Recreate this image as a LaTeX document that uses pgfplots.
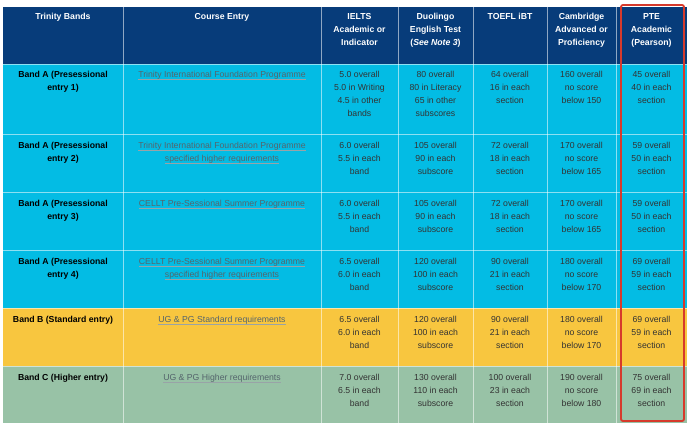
\documentclass[border=0pt]{standalone}
\usepackage{fontspec}
\setmainfont{Liberation Sans}
\usepackage{xcolor}
\usepackage{pgfplots}
\pgfplotsset{compat=1.18}

\definecolor{navy}{HTML}{073C7A}
\definecolor{bandA}{HTML}{03BCE4}
\definecolor{bandB}{HTML}{F8C63F}
\definecolor{bandC}{HTML}{98C2A6}
\definecolor{valtext}{HTML}{333333}
\definecolor{linktext}{HTML}{55656C}
\definecolor{boxred}{HTML}{D63A2C}

% underlined link-style text
\newcommand\lnk[1]{\setbox0\hbox{#1}\rlap{\color{linktext!60}\rule[-2bp]{\wd0}{0.5bp}}\box0}
% fixed height of the first line, so that the node's top is 9bp above its first baseline
\newcommand\st{\rule{0pt}{9bp}}

\tikzset{
  cellt/.style={anchor=north, align=center, inner sep=0pt, text=valtext,
    font=\fontsize{8.7bp}{13bp}\selectfont},
  headt/.style={cellt, text=white, font=\fontsize{8.7bp}{13bp}\selectfont\bfseries},
  bandt/.style={cellt, text=black, font=\fontsize{8.7bp}{13bp}\selectfont\bfseries},
  linkt/.style={cellt, text=linktext},
  gridl/.style={draw=white, draw opacity=0.55, line width=0.8bp},
}

\begin{document}
\begin{tikzpicture}
\useasboundingbox (0,0) rectangle (690bp,427bp);
\begin{axis}[
    at={(0,0)}, anchor=south west,
    width=690bp, height=427bp, scale only axis,
    xmin=0, xmax=690, ymin=0, ymax=427,
    y dir=reverse,
    hide axis,
    clip=false,
]
% row backgrounds
\addplot[fill=navy, draw=none] coordinates {(3,7) (687,7) (687,64) (3,64)} --cycle;
\addplot[fill=bandA, draw=none] coordinates {(3,64) (687,64) (687,308) (3,308)} --cycle;
\addplot[fill=bandB, draw=none] coordinates {(3,308) (687,308) (687,366) (3,366)} --cycle;
\addplot[fill=bandC, draw=none] coordinates {(3,366) (687,366) (687,423) (3,423)} --cycle;

% grid lines
\addplot[gridl] coordinates {(123,7) (123,423)};
\addplot[gridl] coordinates {(321,7) (321,423)};
\addplot[gridl] coordinates {(398,7) (398,423)};
\addplot[gridl] coordinates {(473,7) (473,423)};
\addplot[gridl] coordinates {(547,7) (547,423)};
\addplot[gridl] coordinates {(616,7) (616,423)};
\addplot[gridl] coordinates {(3,64) (687,64)};
\addplot[gridl] coordinates {(3,134) (687,134)};
\addplot[gridl] coordinates {(3,192) (687,192)};
\addplot[gridl] coordinates {(3,250) (687,250)};
\addplot[gridl] coordinates {(3,308) (687,308)};
\addplot[gridl] coordinates {(3,366) (687,366)};

% highlight box round the PTE column
\addplot[draw=boxred, line width=1.8bp, rounded corners=2bp] coordinates {(621,5) (684,5) (684,421) (621,421)} --cycle;

% header (first baseline at y = 19)
\node[headt] at (axis cs:63,10) {\st Trinity Bands};
\node[headt] at (axis cs:222,10) {\st Course Entry};
\node[headt] at (axis cs:359.5,10) {\st IELTS\\Academic or\\Indicator};
\node[headt] at (axis cs:435.5,10) {\st Duolingo\\English Test\\(\textit{See Note 3})};
\node[headt] at (axis cs:510,10) {\st TOEFL iBT};
\node[headt] at (axis cs:581.5,10) {\st Cambridge\\Advanced or\\Proficiency};
\node[headt] at (axis cs:651.5,10) {\st PTE\\Academic\\(Pearson)};

% Band A entry 1 (first baseline at y = 77)
\node[bandt] at (axis cs:63,68) {\st Band A (Presessional\\entry 1)};
\node[linkt] at (axis cs:222,68) {\st\lnk{Trinity International Foundation Programme}};
\node[cellt] at (axis cs:359.5,68) {\st 5.0 overall\\5.0 in Writing\\4.5 in other\\bands};
\node[cellt] at (axis cs:435.5,68) {\st 80 overall\\80 in Literacy\\65 in other\\subscores};
\node[cellt] at (axis cs:510,68) {\st 64 overall\\16 in each\\section};
\node[cellt] at (axis cs:581.5,68) {\st 160 overall\\no score\\below 150};
\node[cellt] at (axis cs:651.5,68) {\st 45 overall\\40 in each\\section};

% Band A entry 2
\node[bandt] at (axis cs:63,139) {\st Band A (Presessional\\entry 2)};
\node[linkt] at (axis cs:222,139) {\st\lnk{Trinity International Foundation Programme}\\\lnk{specified higher requirements}};
\node[cellt] at (axis cs:359.5,139) {\st 6.0 overall\\5.5 in each\\band};
\node[cellt] at (axis cs:435.5,139) {\st 105 overall\\90 in each\\subscore};
\node[cellt] at (axis cs:510,139) {\st 72 overall\\18 in each\\section};
\node[cellt] at (axis cs:581.5,139) {\st 170 overall\\no score\\below 165};
\node[cellt] at (axis cs:651.5,139) {\st 59 overall\\50 in each\\section};

% Band A entry 3
\node[bandt] at (axis cs:63,197) {\st Band A (Presessional\\entry 3)};
\node[linkt] at (axis cs:222,197) {\st\lnk{CELLT Pre-Sessional Summer Programme}};
\node[cellt] at (axis cs:359.5,197) {\st 6.0 overall\\5.5 in each\\band};
\node[cellt] at (axis cs:435.5,197) {\st 105 overall\\90 in each\\subscore};
\node[cellt] at (axis cs:510,197) {\st 72 overall\\18 in each\\section};
\node[cellt] at (axis cs:581.5,197) {\st 170 overall\\no score\\below 165};
\node[cellt] at (axis cs:651.5,197) {\st 59 overall\\50 in each\\section};

% Band A entry 4
\node[bandt] at (axis cs:63,255) {\st Band A (Presessional\\entry 4)};
\node[linkt] at (axis cs:222,255) {\st\lnk{CELLT Pre-Sessional Summer Programme}\\\lnk{specified higher requirements}};
\node[cellt] at (axis cs:359.5,255) {\st 6.5 overall\\6.0 in each\\band};
\node[cellt] at (axis cs:435.5,255) {\st 120 overall\\100 in each\\subscore};
\node[cellt] at (axis cs:510,255) {\st 90 overall\\21 in each\\section};
\node[cellt] at (axis cs:581.5,255) {\st 180 overall\\no score\\below 170};
\node[cellt] at (axis cs:651.5,255) {\st 69 overall\\59 in each\\section};

% Band B
\node[bandt] at (axis cs:63,313) {\st Band B (Standard entry)};
\node[linkt] at (axis cs:222,313) {\st\lnk{UG \& PG Standard requirements}};
\node[cellt] at (axis cs:359.5,313) {\st 6.5 overall\\6.0 in each\\band};
\node[cellt] at (axis cs:435.5,313) {\st 120 overall\\100 in each\\subscore};
\node[cellt] at (axis cs:510,313) {\st 90 overall\\21 in each\\section};
\node[cellt] at (axis cs:581.5,313) {\st 180 overall\\no score\\below 170};
\node[cellt] at (axis cs:651.5,313) {\st 69 overall\\59 in each\\section};

% Band C
\node[bandt] at (axis cs:63,371) {\st Band C (Higher entry)};
\node[linkt] at (axis cs:222,371) {\st\lnk{UG \& PG Higher requirements}};
\node[cellt] at (axis cs:359.5,371) {\st 7.0 overall\\6.5 in each\\band};
\node[cellt] at (axis cs:435.5,371) {\st 130 overall\\110 in each\\subscore};
\node[cellt] at (axis cs:510,371) {\st 100 overall\\23 in each\\section};
\node[cellt] at (axis cs:581.5,371) {\st 190 overall\\no score\\below 180};
\node[cellt] at (axis cs:651.5,371) {\st 75 overall\\69 in each\\section};
\end{axis}
\end{tikzpicture}
\end{document}
